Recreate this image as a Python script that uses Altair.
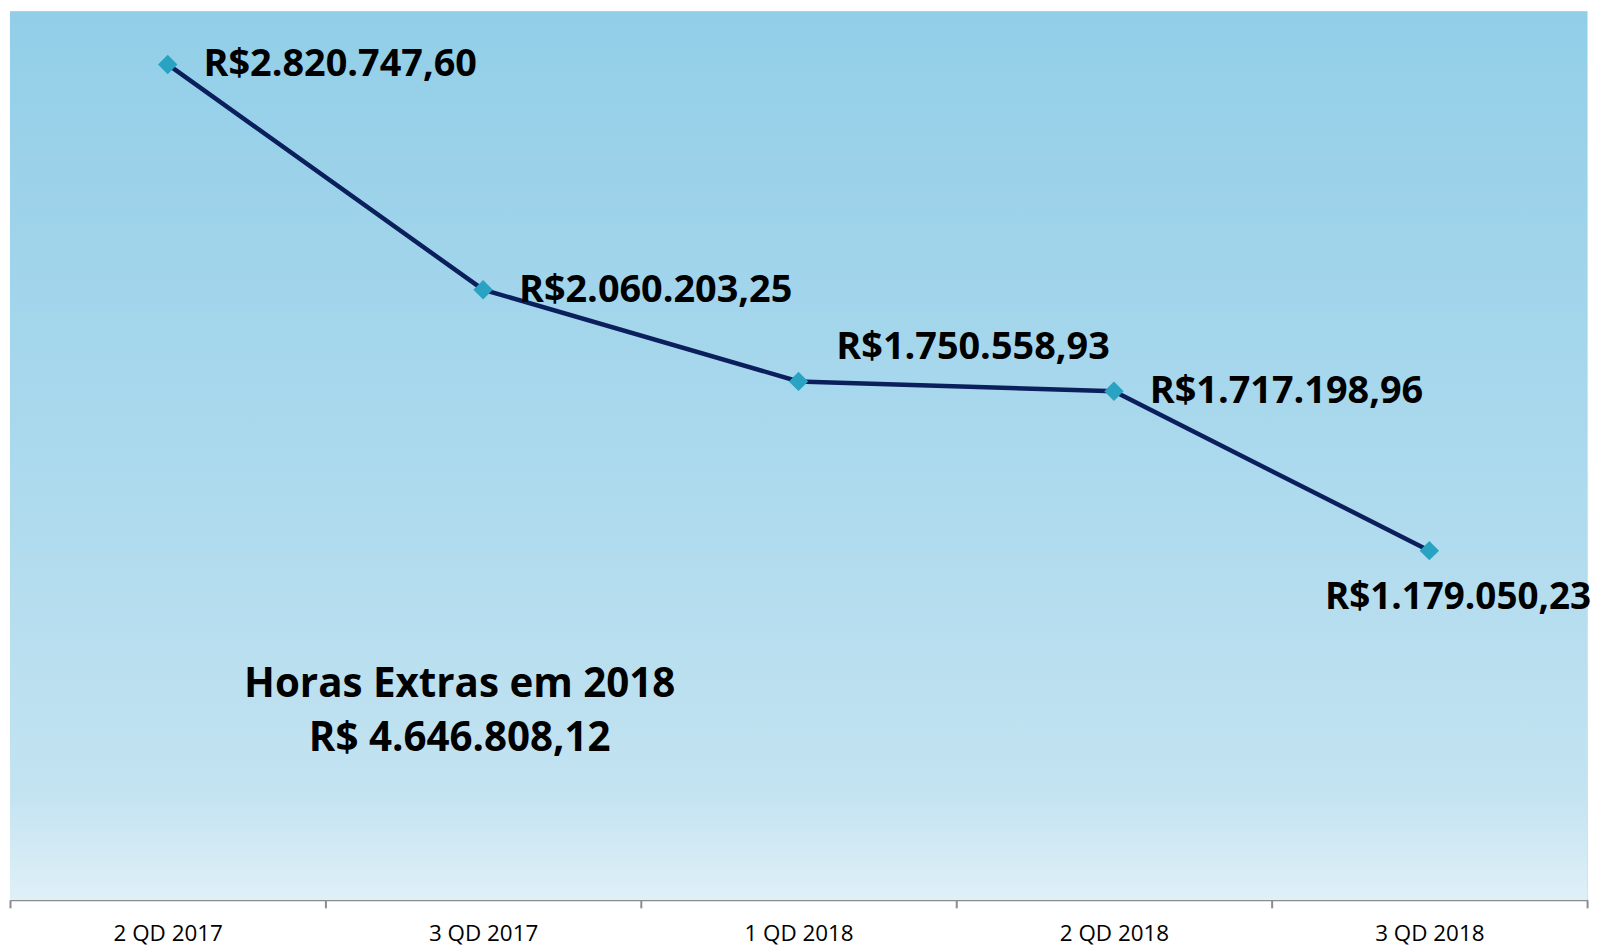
import altair as alt
import pandas as pd

periods = ["2 QD 2017", "3 QD 2017", "1 QD 2018", "2 QD 2018", "3 QD 2018"]
values = [2820747.60, 2060203.25, 1750558.93, 1717198.96, 1179050.23]
labels = ["R$2.820.747,60", "R$2.060.203,25", "R$1.750.558,93", "R$1.717.198,96", "R$1.179.050,23"]
title_lines = ["Horas Extras em 2018", "R$ 4.646.808,12"]

df = pd.DataFrame({"periodo": periods, "valor": values, "rotulo": labels})

W, H = 1585, 893
FONT = "Open Sans"

x_enc = alt.X("periodo:N", sort=periods, title=None,
              scale=alt.Scale(type="band", paddingInner=0, paddingOuter=0),
              axis=alt.Axis(tickBand="extent", labelAngle=0, labelFontSize=22.5,
                            labelFont=FONT, labelColor="#000000", labelPadding=15,
                            domainColor="#8c8c8c", domainWidth=2, tickColor="#8c8c8c",
                            tickWidth=2, tickSize=8, grid=False))
y_enc = alt.Y("valor:Q", title=None, scale=alt.Scale(domain=[0, 3000000], nice=False, zero=True),
              axis=None)

bg = alt.Chart(pd.DataFrame({"k": [0]})).mark_rect(
    color=alt.Gradient(
        gradient="linear",
        stops=[alt.GradientStop(offset=0, color="#92cee8"),
               alt.GradientStop(offset=0.5, color="#abd9ed"),
               alt.GradientStop(offset=0.88, color="#c3e3f1"),
               alt.GradientStop(offset=1, color="#dff0f7")],
        x1=0, x2=0, y1=0, y2=1)
).encode(x=alt.value(0), x2=alt.value(W), y=alt.value(0), y2=alt.value(H))

base = alt.Chart(df).encode(x=x_enc, y=y_enc)

line = base.mark_line(color="#0b1f5c", strokeWidth=4.5)
pts = base.mark_point(shape="diamond", filled=True, size=380, color="#2aa2c2", opacity=1)

txt_style = dict(font=FONT, fontWeight="bold", fontSize=38, color="#000000",
                 align="left", baseline="middle")
t_right = base.mark_text(dx=36, dy=1, **txt_style).encode(text="rotulo:N").transform_filter(
    alt.FieldOneOfPredicate(field="periodo", oneOf=[periods[0], periods[1], periods[3]]))
t_above = base.mark_text(dx=38, dy=-34, **txt_style).encode(text="rotulo:N").transform_filter(
    alt.FieldEqualPredicate(field="periodo", equal=periods[2]))
below_style = dict(txt_style, fontSize=37)
t_below = base.mark_text(dx=-105, dy=48, **below_style).encode(text="rotulo:N").transform_filter(
    alt.FieldEqualPredicate(field="periodo", equal=periods[4]))

ann_style = dict(font=FONT, fontWeight="bold", fontSize=40.5, color="#000000",
                 align="center", baseline="middle")
ann1 = alt.Chart(pd.DataFrame({"k": [0]})).mark_text(**ann_style).encode(
    x=alt.value(452), y=alt.value(677), text=alt.value(title_lines[0]))
ann2 = alt.Chart(pd.DataFrame({"k": [0]})).mark_text(**ann_style).encode(
    x=alt.value(452), y=alt.value(731), text=alt.value(title_lines[1]))

chart = alt.layer(bg, line, pts, t_right, t_above, t_below, ann1, ann2).properties(
    width=W, height=H,
    padding={"left": 2, "top": 1, "right": 13, "bottom": 46},
    autosize=alt.AutoSizeParams(type="none"),
).configure_view(stroke=None).configure(background="#ffffff")

chart.save("out.html", embed_options={"renderer": "svg", "actions": False})
